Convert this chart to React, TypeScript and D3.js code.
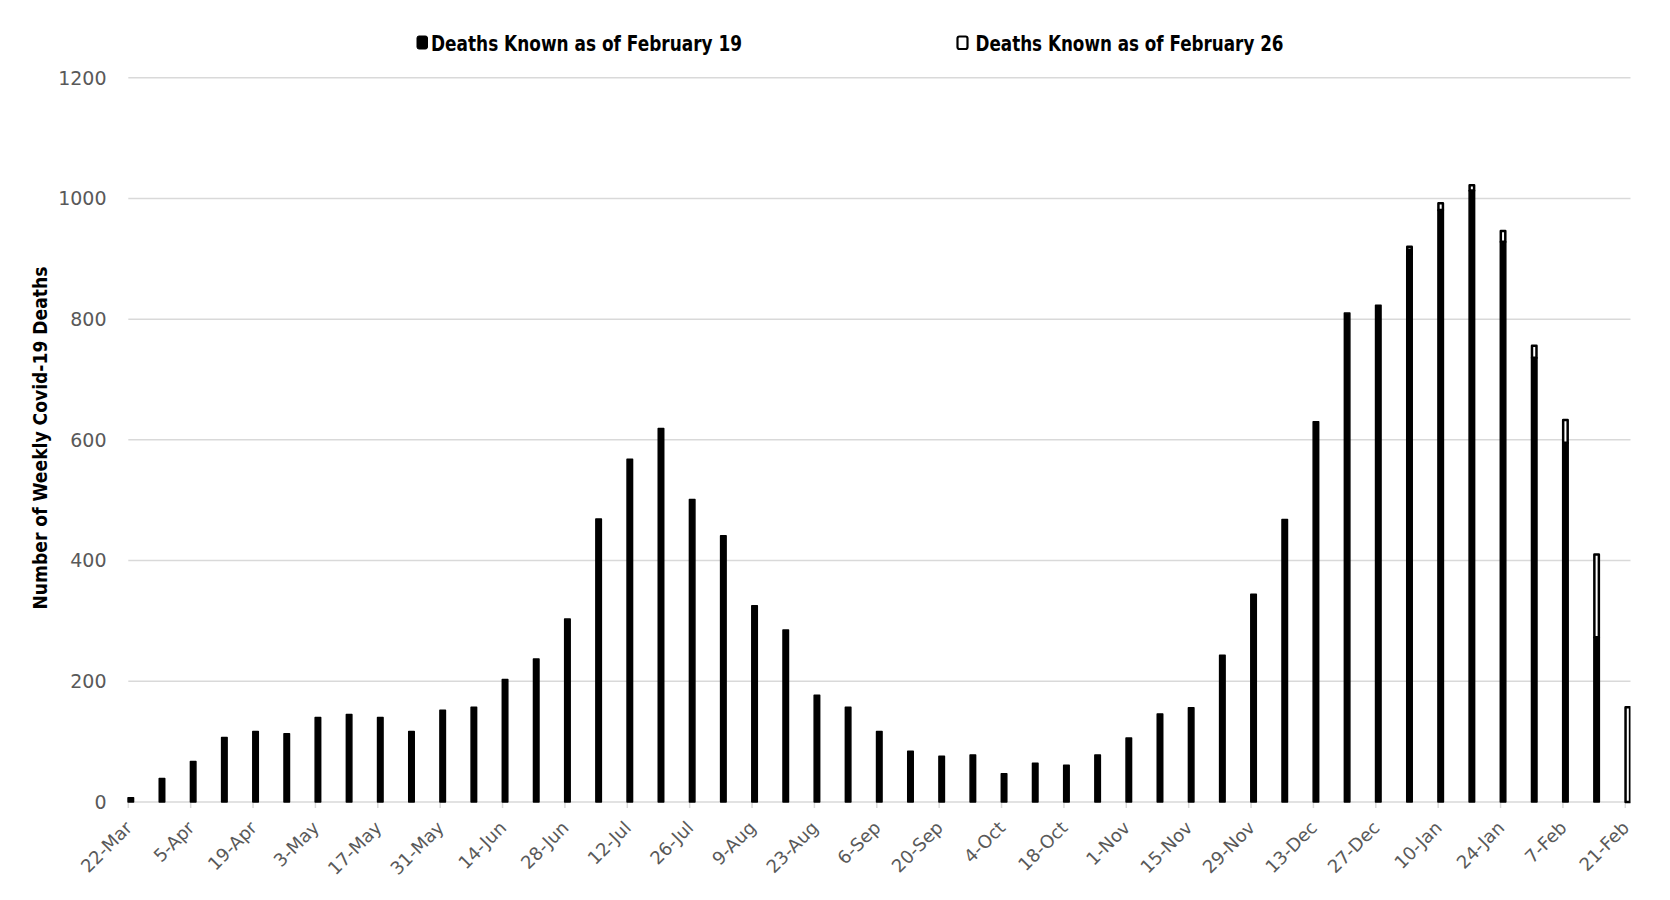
import React from "react";
import * as d3 from "d3";

const weeks = [
  "22-Mar","29-Mar","5-Apr","12-Apr","19-Apr","26-Apr","3-May","10-May","17-May","24-May",
  "31-May","7-Jun","14-Jun","21-Jun","28-Jun","5-Jul","12-Jul","19-Jul","26-Jul","2-Aug",
  "9-Aug","16-Aug","23-Aug","30-Aug","6-Sep","13-Sep","20-Sep","27-Sep","4-Oct","11-Oct",
  "18-Oct","25-Oct","1-Nov","8-Nov","15-Nov","22-Nov","29-Nov","6-Dec","13-Dec","20-Dec",
  "27-Dec","3-Jan","10-Jan","17-Jan","24-Jan","31-Jan","7-Feb","14-Feb","21-Feb"
];

const deathsFeb19 = [
  7, 39, 67, 107, 117, 113, 140, 145, 140, 117,
  152, 157, 203, 237, 303, 469, 568, 619, 501, 441,
  325, 285, 177, 157, 117, 84, 76, 78, 47, 64,
  61, 78, 106, 146, 156, 243, 344, 468, 630, 810,
  823, 915, 981, 1013, 928, 736, 595, 273, 0
];

const addedByFeb26 = [
  0, 0, 0, 0, 0, 0, 0, 0, 0, 0,
  0, 0, 0, 0, 0, 0, 0, 0, 0, 0,
  0, 0, 0, 0, 0, 0, 0, 0, 0, 0,
  0, 0, 0, 0, 0, 0, 0, 0, 0, 0,
  0, 5, 11, 9, 18, 20, 38, 137, 157
];

const yTicks = [0, 200, 400, 600, 800, 1000, 1200];
const legendLabels = ["Deaths Known as of February 19", "Deaths Known as of February 26"];
const yTitle = "Number of Weekly Covid-19 Deaths";

export default function App() {
  const W = 1670, H = 900;
  const x = d3.scaleLinear().domain([0, weeks.length - 1]).range([128.3, 1625.3]);
  const y = d3.scaleLinear().domain([0, 1200]).range([802, 77.7]);
  const plotLeft = 128.3, plotRight = 1630.5;
  const off = 2.5;
  const grey = "#595959";
  const font = "'DejaVu Sans', Verdana, sans-serif";
  const boldFont = "'Liberation Sans Narrow', 'DejaVu Sans Condensed', 'Open Sans', sans-serif";

  return (
    <svg width={W} height={H} style={{ position: "absolute", left: 0, top: 0, background: "#fff" }}>
      <defs>
        <clipPath id="plotClip">
          <rect x={plotLeft - 5} y={60} width={plotRight - plotLeft + 5} height={750} />
        </clipPath>
      </defs>
      <rect x={0} y={0} width={W} height={H} fill="#fff" />
      {/* gridlines */}
      {yTicks.filter(t => t > 0).map(t => (
        <line key={t} x1={plotLeft} x2={plotRight} y1={y(t)} y2={y(t)} stroke="#d9d9d9" strokeWidth={1.5} />
      ))}
      {/* y labels */}
      {yTicks.map(t => (
        <text key={t} x={106.5} y={y(t)} dy="0.36em" textAnchor="end" fontFamily={font} fontSize={19} fill={grey}>{t}</text>
      ))}
      {/* x axis */}
      <line x1={plotLeft} x2={plotRight} y1={y(0)} y2={y(0)} stroke="#d9d9d9" strokeWidth={1.5} />
      {weeks.map((w, i) => i % 2 === 0 ? (
        <g key={w}>
          <line x1={x(i)} x2={x(i)} y1={y(0)} y2={y(0) + 6} stroke="#d9d9d9" strokeWidth={1.5} />
          <text transform={`translate(${x(i) - 4},${y(0) + 18}) rotate(-45)`} textAnchor="end" dy="0.7em"
            fontFamily={font} fontSize={18} fill={grey}>{w}</text>
        </g>
      ) : null)}
      <g clipPath="url(#plotClip)">
        {/* bars: Feb 19 */}
        {deathsFeb19.map((v, i) => v > 0 ? (
          <rect key={"a" + i} x={x(i) + off - 2.75} width={5.5} y={y(v)} height={y(0) - y(v)}
            fill="#000" stroke="#000" strokeWidth={1.5} strokeLinejoin="round" />
        ) : null)}
        {/* bars: added by Feb 26 */}
        {addedByFeb26.map((v, i) => v > 0 ? (
          <rect key={"b" + i} x={x(i) + off - 2.25} width={4.5} y={y(deathsFeb19[i] + v)}
            height={y(deathsFeb19[i]) - y(deathsFeb19[i] + v)}
            fill="#fff" stroke="#000" strokeWidth={2.5} strokeLinejoin="round" />
        ) : null)}
      </g>
      {/* legend */}
      <rect x={417} y={36} width={10.5} height={13} rx={2} fill="#000" stroke="#000" strokeWidth={1} />
      <text x={431} y={43.5} dy="0.36em" fontFamily={boldFont} fontWeight="bold" fontSize={22} fill="#000"
        textLength={311} lengthAdjust="spacingAndGlyphs">{legendLabels[0]}</text>
      <rect x={957.5} y={36.5} width={10} height={12.5} rx={2} fill="#fff" stroke="#000" strokeWidth={2.2} />
      <text x={975.5} y={43.5} dy="0.36em" fontFamily={boldFont} fontWeight="bold" fontSize={22} fill="#000"
        textLength={308} lengthAdjust="spacingAndGlyphs">{legendLabels[1]}</text>
      {/* y title */}
      <text transform={`translate(40,438) rotate(-90)`} textAnchor="middle" dy="0.36em" fontFamily={boldFont}
        fontWeight="bold" fontSize={20} fill="#000" textLength={343} lengthAdjust="spacingAndGlyphs">{yTitle}</text>
    </svg>
  );
}
